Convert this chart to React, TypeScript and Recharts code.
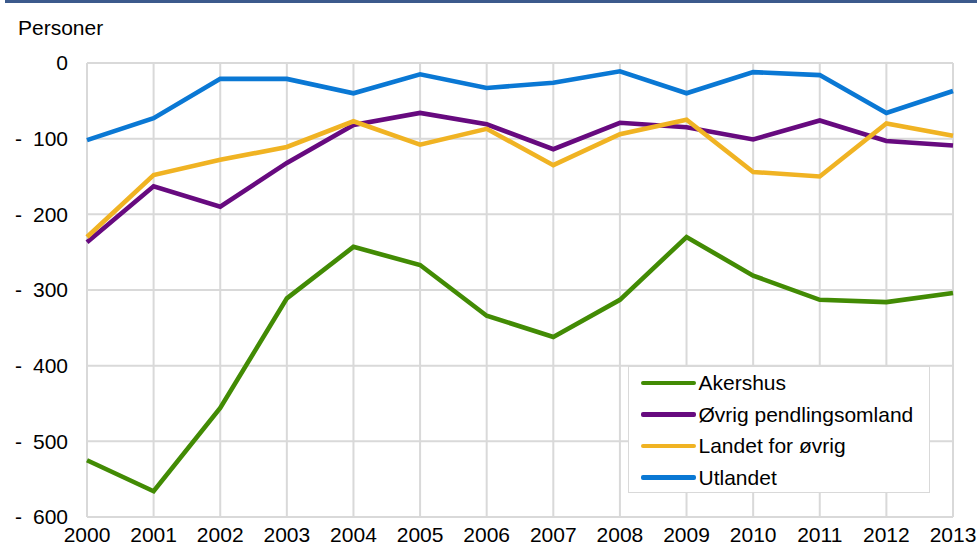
import React from 'react';
import { LineChart, Line, XAxis, YAxis, CartesianGrid } from 'recharts';

const years = ['2000','2001','2002','2003','2004','2005','2006','2007','2008','2009','2010','2011','2012','2013'];
const akershus = [-525, -566, -456, -311, -243, -267, -334, -362, -313, -230, -281, -313, -316, -304];
const ovrigPendling = [-237, -163, -190, -132, -82, -66, -81, -114, -79, -85, -101, -76, -103, -109];
const landetForOvrig = [-230, -148, -128, -111, -77, -108, -87, -135, -94, -75, -144, -150, -80, -96];
const utlandet = [-102, -73, -21, -21, -40, -15, -33, -26, -11, -40, -12, -16, -66, -37];
const yTicks = [0, -100, -200, -300, -400, -500, -600];

const seriesDefs = [
  { key: 'akershus', name: 'Akershus', color: '#428b04' },
  { key: 'ovrig', name: 'Øvrig pendlingsomland', color: '#670a7f' },
  { key: 'landet', name: 'Landet for øvrig', color: '#f0b323' },
  { key: 'utlandet', name: 'Utlandet', color: '#0a78d4' },
];

const data = years.map((y, i) => ({
  year: y,
  akershus: akershus[i],
  ovrig: ovrigPendling[i],
  landet: landetForOvrig[i],
  utlandet: utlandet[i],
}));

const FONT = '"Liberation Sans", Arial, sans-serif';
const FS = 21;

const YTick = (props: any) => {
  const { y, payload } = props;
  const v = payload.value as number;
  return (
    <g>
      {v < 0 && (
        <text x={15} y={y} dy="0.35em" fontSize={FS} fontFamily={FONT} fill="#000">-</text>
      )}
      <text x={68} y={y} dy="0.35em" textAnchor="end" fontSize={FS} fontFamily={FONT} fill="#000">
        {Math.abs(v)}
      </text>
    </g>
  );
};

const XTick = (props: any) => {
  const { x, y, payload } = props;
  return (
    <text x={x} y={y + 24.5} textAnchor="middle" fontSize={FS} fontFamily={FONT} fill="#000">
      {payload.value}
    </text>
  );
};

const LegendBox = () => (
  <div
    style={{
      position: 'absolute',
      left: 628,
      top: 366,
      width: 302,
      height: 127,
      boxSizing: 'border-box',
      border: '1.5px solid #d9d9d9',
      background: '#fff',
      paddingTop: 0,
      fontFamily: FONT,
      fontSize: FS,
      color: '#000',
    }}
  >
    {seriesDefs.map((s) => (
      <div key={s.key} style={{ display: 'flex', alignItems: 'center', height: 31.5, paddingLeft: 11.5 }}>
        <div style={{ width: 55, height: 4.5, borderRadius: 2, background: s.color, marginRight: 3, flex: 'none' }} />
        <span style={{ lineHeight: '21px', whiteSpace: 'nowrap' }}>{s.name}</span>
      </div>
    ))}
  </div>
);

export default function App() {
  return (
    <div style={{ position: 'absolute', left: 0, top: 0, width: 977, height: 551, background: '#fff' }}>
      <div style={{ position: 'absolute', left: 5, top: 0, width: 972, height: 3, background: '#3c5a8c' }} />
      <div
        style={{
          position: 'absolute',
          left: 18,
          top: 18,
          fontFamily: FONT,
          fontSize: FS,
          lineHeight: '20px',
          color: '#000',
        }}
      >
        Personer
      </div>
      <LineChart width={977} height={551} data={data} margin={{ top: 63, right: 24, bottom: 4, left: 0 }}>
        <CartesianGrid stroke="#d9d9d9" strokeWidth={2} vertical horizontal />
        <XAxis
          dataKey="year"
          axisLine={false}
          tickLine={false}
          tickSize={0}
          tickMargin={0}
          height={30}
          interval={0}
          tick={<XTick />}
        />
        <YAxis
          type="number"
          domain={[-600, 0]}
          ticks={yTicks}
          axisLine={false}
          tickLine={false}
          tickSize={0}
          width={87}
          interval={0}
          tick={<YTick />}
        />
        {seriesDefs.map((s) => (
          <Line
            key={s.key}
            type="linear"
            dataKey={s.key}
            name={s.name}
            stroke={s.color}
            strokeWidth={4.6}
            strokeLinejoin="miter"
            dot={false}
            activeDot={false}
            isAnimationActive={false}
          />
        ))}
      </LineChart>
      <LegendBox />
    </div>
  );
}
